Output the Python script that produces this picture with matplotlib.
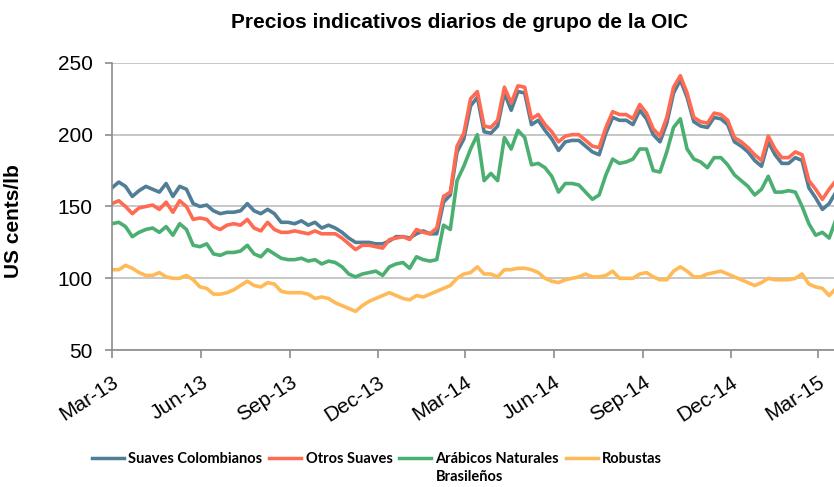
import pandas as pd
import matplotlib.pyplot as plt
import matplotlib.dates as mdates

plt.rcParams['font.family'] = ['Liberation Sans', 'DejaVu Sans']

# weekly readings from 2013-03-01 (US cents/lb)
suaves_colombianos = [163, 167, 164, 157, 161, 164, 162, 160, 166, 157, 164, 162, 152, 150, 151, 147, 145, 146, 146, 147,
                      152, 147, 145, 148, 145, 139, 139, 138, 140, 137, 139, 135, 137, 135, 132, 128, 125, 125, 125, 124,
                      124, 126, 129, 129, 128, 131, 133, 131, 131,
                      153, 158, 188, 197, 220, 226, 202, 201, 206, 229, 217, 230, 229, 207, 210, 203, 197, 189, 195, 196,
                      196, 192, 188, 186, 201, 212, 210, 210, 207, 217, 211, 200, 195, 208, 229, 238, 226, 209, 206, 205,
                      212, 211, 207, 195, 192, 188, 182, 178, 195, 186, 180, 180, 184, 182, 163, 156, 148, 152, 160]
otros_suaves = [152, 154, 150, 145, 149, 150, 151, 148, 153, 146, 154, 150, 141, 142, 141, 136, 134, 137, 138, 137,
                141, 135, 133, 139, 134, 132, 132, 133, 132, 131, 133, 131, 131, 131, 128, 124, 120, 123, 123, 122,
                121, 127, 128, 129,
                127, 134, 132, 131, 135, 157, 160, 192, 201, 225, 230, 206, 205, 210, 233, 222, 234, 233, 211, 214,
                207, 202, 195, 199, 200, 200, 196, 192, 191, 205, 216, 214, 214, 211, 221, 215, 204, 199, 212, 233,
                241, 229, 212, 209, 208, 215, 214, 210, 198, 195, 191, 186, 182, 199, 190, 184, 184, 188, 186, 168,
                162, 155, 162, 168]
arabicos_brasil = [138, 139, 136, 129, 132, 134, 135, 132, 136, 130, 138, 134, 123, 122, 124, 117, 116, 118, 118, 119,
                   123, 117, 115, 120, 117, 114, 113, 113, 114, 112, 113, 110, 112, 111, 108, 103, 101, 103, 104, 105,
                   102, 108, 110, 111, 107, 115, 113, 112, 113,
                   137, 134, 168, 178, 190, 200, 168, 173, 168, 198, 190, 203, 198, 179, 180, 177, 171, 160, 166, 166,
                   165, 160, 155, 158, 172, 183, 180, 181, 183, 190, 190, 175, 174, 188, 205, 211, 190, 183, 181, 177,
                   184, 184, 179, 172, 168, 164, 158, 162, 171, 160, 160, 161, 160, 150, 138, 130, 132, 128, 141]
robustas = [106, 106, 109, 107, 104, 102, 102, 104, 101, 100, 100, 102, 99, 94, 93, 89, 89, 90, 92, 95,
            98, 95, 94, 97, 96, 91, 90, 90, 90, 89, 86, 87, 86, 83, 81, 79, 77, 81, 84, 86,
            88, 90, 88, 86,
            85, 88, 87, 89, 91, 93, 95, 100, 103, 104, 108, 103, 103, 101, 106, 106, 107, 107, 106, 104,
            100, 98, 97, 99, 100, 101, 103, 101, 101, 102, 105, 100, 100, 100, 103, 104, 101, 99, 99, 105,
            108, 105, 101, 101, 103, 104, 105, 103, 101, 99, 97, 95, 97, 100, 99, 99, 99, 100, 103, 96,
            94, 93, 88, 93]

dates = pd.date_range('2013-03-01', periods=len(otros_suaves), freq='7D')

series = [
    ('Suaves Colombianos', suaves_colombianos, '#4F7E96'),
    ('Otros Suaves', otros_suaves, '#FF6B52'),
    ('Arábicos Naturales', arabicos_brasil, '#4CAF72'),
    ('Robustas', robustas, '#FFBA57'),
]

fig = plt.figure(figsize=(8.34, 4.87), dpi=100)
ax = fig.add_axes([112 / 834, 0.281, 722 / 834, 0.590])

handles = []
for name, vals, col in series:
    h, = ax.plot(dates[:len(vals)], vals, color=col, linewidth=2.6, label=name)
    handles.append(h)

ax.set_ylim(50, 250)
ax.set_yticks([50, 100, 150, 200, 250])
ax.set_xlim(pd.Timestamp('2013-03-01'), pd.Timestamp('2015-03-18'))
ax.xaxis.set_major_locator(mdates.MonthLocator(bymonth=[3, 6, 9, 12]))
ax.xaxis.set_major_formatter(mdates.DateFormatter('%b-%y'))

ax.grid(axis='y', color='#BEBEBE', linewidth=1.2)
ax.set_axisbelow(True)
for s in ['top', 'right']:
    ax.spines[s].set_visible(False)
for s in ['left', 'bottom']:
    ax.spines[s].set_color('#8C8C8C')
    ax.spines[s].set_linewidth(1.2)

ax.tick_params(axis='y', length=5, width=1.2, color='#8C8C8C', pad=9, labelsize=15)
ax.tick_params(axis='x', length=6, width=1.2, color='#8C8C8C', pad=10, labelsize=15)
for lab in ax.get_xticklabels():
    lab.set_rotation(33)
    lab.set_ha('right')
    lab.set_va('top')
    lab.set_rotation_mode('anchor')

ax.set_ylabel('US cents/lb', fontsize=15, fontweight='bold')
ax.yaxis.set_label_coords(-0.123, 0.45)

fig.text(460 / 834, 1 - 23 / 487, 'Precios indicativos diarios de grupo de la OIC',
         ha='center', va='center', fontsize=15, fontweight='bold')

leg_font = dict(family=['Lato', 'DejaVu Sans'], weight='bold', size=10.5)
leg = fig.legend(handles, [h.get_label() for h in handles], loc='center left',
                 bbox_to_anchor=(92 / 834, 1 - 459 / 487), ncol=4, frameon=False,
                 prop=leg_font, handlelength=2.2, handletextpad=0.3, columnspacing=0.45,
                 borderpad=0, borderaxespad=0)
for lh in leg.get_lines():
    lh.set_linewidth(2.5)

# second line of the Brazilian label, placed under the legend text
fig.canvas.draw()
bb = leg.get_texts()[2].get_window_extent()
W, H = fig.get_size_inches() * fig.dpi
fig.text(bb.x0 / W, (bb.y0 - 4) / H, 'Brasileños', ha='left', va='top',
         family=['Lato', 'DejaVu Sans'], fontweight='bold', fontsize=10.5)

fig.savefig('out.png', dpi=100)
